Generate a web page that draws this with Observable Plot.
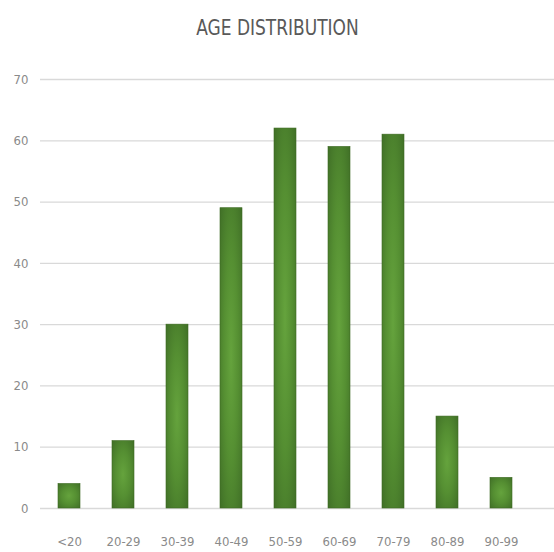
<!DOCTYPE html>
<html>
<head>
<meta charset="utf-8">
<script src="https://cdn.jsdelivr.net/npm/d3@7"></script>
<script src="https://cdn.jsdelivr.net/npm/@observablehq/plot@0.6"></script>
<style>
  body { margin: 0; background: #fff; }
  #title { height: 50px; line-height: 56px; text-align: center; font-family: "DejaVu Sans Condensed", "DejaVu Sans", sans-serif; font-stretch: condensed; font-size: 22px; color: #595959; }
  #title span { display: inline-block; transform: scaleX(0.86); }
  #chart svg text { font-stretch: condensed; }
</style>
</head>
<body>
<div id="title"><span>AGE DISTRIBUTION</span></div>
<div id="chart"></div>
<script>
const categories = ["<20", "20-29", "30-39", "40-49", "50-59", "60-69", "70-79", "80-89", "90-99"];
const counts = [4, 11, 30, 49, 62, 59, 61, 15, 5];
const yTicks = [0, 10, 20, 30, 40, 50, 60, 70];

const data = categories.map((c, i) => ({age: c, count: counts[i]}));

const plot = Plot.plot({
  width: 554,
  height: 502,
  marginTop: 29,
  marginBottom: 44,
  marginLeft: 40,
  marginRight: 0,
  style: {fontFamily: "'DejaVu Sans Condensed', 'DejaVu Sans', sans-serif", fontSize: "13px", color: "#8a8a8a", background: "#fff"},
  x: {domain: categories, range: [40, 530], paddingInner: 0.6, paddingOuter: 0.3, label: null},
  y: {domain: [0, 70], ticks: yTicks, label: null},
  marks: [
    Plot.ruleY(yTicks, {stroke: "#d9d9d9", strokeWidth: 1.3}),
    Plot.barY(data, {x: "age", y: "count", fill: "url(#barGrad)", stroke: "#3d6a22", strokeWidth: 0.6}),
    Plot.axisX({tickSize: 0, tickPadding: 28, fill: "#8a8a8a"}),
    Plot.axisY({ticks: yTicks, tickSize: 0, tickPadding: 12, fill: "#8a8a8a"})
  ]
});

const defs = d3.select(plot).insert("defs", ":first-child");
const g = defs.append("radialGradient").attr("id", "barGrad")
  .attr("cx", "50%").attr("cy", "50%").attr("r", "75%");
g.append("stop").attr("offset", "0%").attr("stop-color", "#65a33d");
g.append("stop").attr("offset", "45%").attr("stop-color", "#558f32");
g.append("stop").attr("offset", "100%").attr("stop-color", "#3d6b25");

document.getElementById("chart").appendChild(plot);
</script>
</body>
</html>
